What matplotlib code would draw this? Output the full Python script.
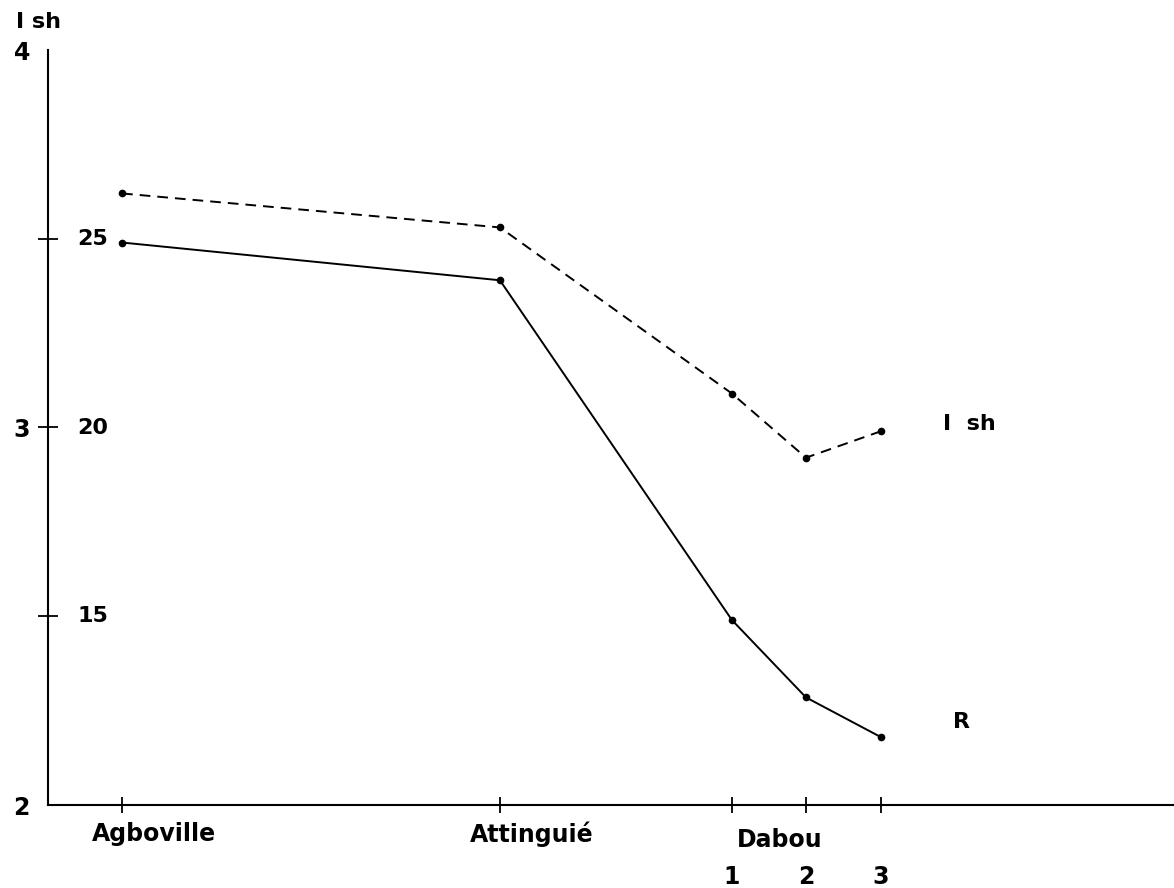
import matplotlib
matplotlib.use("Agg")
import matplotlib.pyplot as plt
import matplotlib.transforms as mtransforms

# Stations (positions along the x axis)
stations = ["Agboville", "Attinguié", "1", "2", "3"]
x_pos = [0.0, 5.0, 8.07, 9.05, 10.04]

# I sh (dashed line, left scale 2-4)
ish = [3.62, 3.53, 3.09, 2.92, 2.99]
# R (solid line, inner scale 10-30)
r_vals = [24.9, 23.9, 14.9, 12.85, 11.8]

ish_ticks = [2, 3, 4]
r_ticks = [25, 20, 15]


def r_to_ish(r):
    return 2 + (r - 10) / 10.0


plt.rcParams["font.family"] = ["DejaVu Sans"]
plt.rcParams["font.weight"] = "bold"

fig = plt.figure(figsize=(11.74, 8.88), dpi=100)
ax = fig.add_axes([48 / 1174, 83 / 888, 1 - 48 / 1174, 755 / 888])

ax.plot(x_pos, ish, color="black", lw=1.4, ls=(0, (5.5, 3.6)),
        marker="o", ms=4.5)
ax.plot(x_pos, [r_to_ish(v) for v in r_vals], color="black", lw=1.4,
        marker="o", ms=4.5)

ax.set_xlim(-0.98, 13.92)
ax.set_ylim(2, 4)

for s in ["top", "right"]:
    ax.spines[s].set_visible(False)
ax.spines["left"].set_linewidth(1.5)
ax.spines["bottom"].set_linewidth(1.5)

# x ticks: station names (set a little right of their ticks),
# Dabou sub-stations numbered lower down
ax.set_xticks(x_pos)
ax.set_xticklabels(stations, fontsize=17, fontweight="bold")
ax.tick_params(axis="x", direction="inout", length=12, width=1.3, pad=6)
shift = mtransforms.ScaledTranslation(0.32, 0, fig.dpi_scale_trans)
for lbl in ax.get_xticklabels()[:2]:
    lbl.set_transform(lbl.get_transform() + shift)
for tk in ax.xaxis.get_major_ticks()[2:]:
    tk.set_pad(37)
ax.text(x_pos[2] + 0.63, -0.03, "Dabou", ha="center", va="top",
        fontsize=17, fontweight="bold",
        transform=mtransforms.blended_transform_factory(ax.transData, ax.transAxes))

# left (I sh) scale
ax.yaxis.remove_overlapping_locs = False
ax.set_yticks(ish_ticks)
ax.set_yticklabels([str(t) for t in ish_ticks], fontsize=17, fontweight="bold")
ax.tick_params(axis="y", which="major", length=0, pad=13)
ax.set_yticks([r_to_ish(t) for t in r_ticks], minor=True)
ax.tick_params(axis="y", which="minor", direction="inout", length=14, width=1.3)

# inner R scale labels
trans = mtransforms.blended_transform_factory(ax.transAxes, ax.transData)
for t in r_ticks:
    ax.text(0.026, r_to_ish(t), str(t), ha="left", va="center",
            fontsize=16, fontweight="bold", transform=trans)

fig.text(16 / 1174, 1 - 22 / 888, "I sh", ha="left", va="center",
         fontsize=16, fontweight="bold")
ax.text(10.86, 3.01, "I  sh", ha="left", va="center", fontsize=16,
        fontweight="bold")
ax.text(11.0, 2.22, "R", ha="left", va="center", fontsize=16,
        fontweight="bold")

fig.savefig("out.png", dpi=100)
